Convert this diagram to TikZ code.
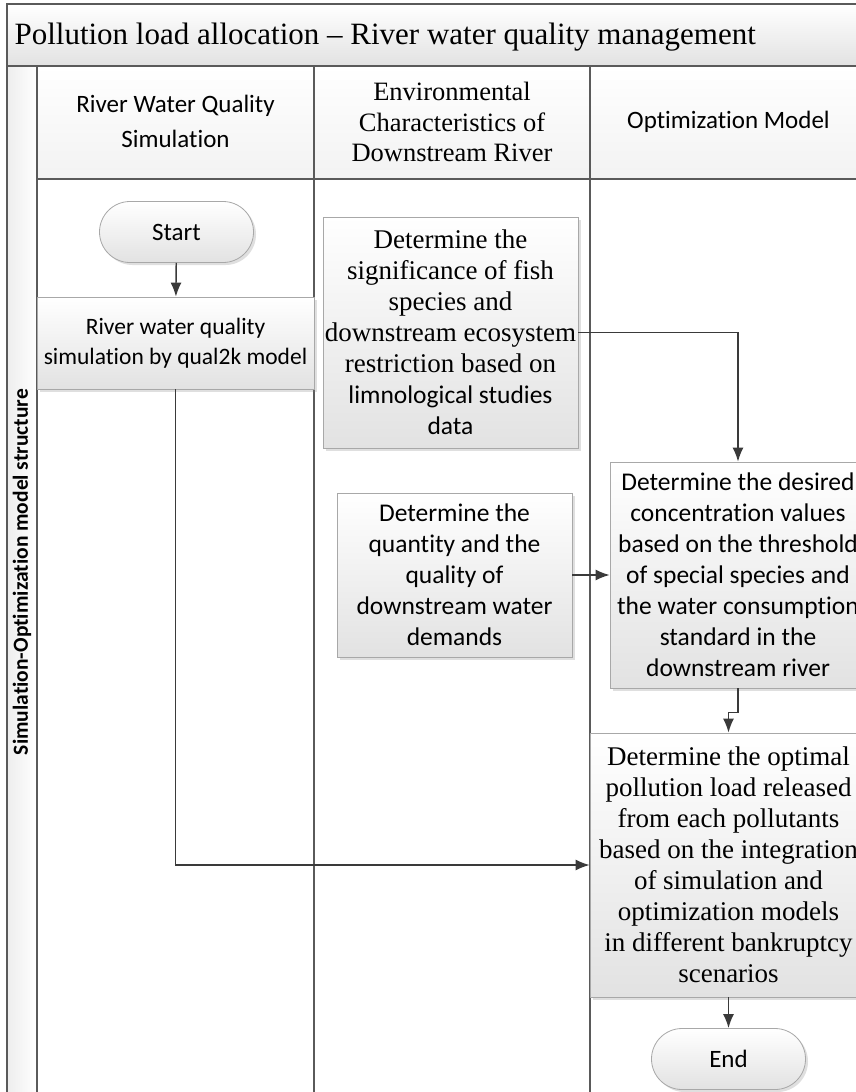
\documentclass[tikz,border=0pt]{standalone}
\usepackage{fontspec}
\setmainfont{Liberation Serif}
\setsansfont{Carlito}[Ligatures={NoCommon}]
\usetikzlibrary{arrows.meta,shadows}

\definecolor{lanegray}{HTML}{5A5A5A}
\definecolor{boxedge}{HTML}{A8A8A8}
\definecolor{boxfill}{HTML}{E2E2E2}
\definecolor{bandfill}{HTML}{E2E2E2}
\definecolor{arrowgray}{HTML}{3A3A3A}

\newcommand{\sfbody}{\sffamily\fontsize{25.5}{31}\selectfont}

\tikzset{
  lane/.style={draw=lanegray, line width=1.5pt},
  procbox/.style={draw=boxedge, line width=0.8pt, top color=white, bottom color=boxfill,
    align=center, inner sep=0pt,
    drop shadow={shadow xshift=2.5pt, shadow yshift=-2.5pt, opacity=0.25}},
  termbox/.style={procbox, rounded corners=30.5pt, minimum width=154pt, minimum height=61pt,
    font=\sffamily\fontsize{25}{30}\selectfont},
  flow/.style={draw=arrowgray, line width=1.4pt, -{Latex[length=14pt,width=11pt]}},
  serifbody/.style={font=\fontsize{27}{31}\selectfont},
  sansbody/.style={font=\sfbody},
}

\begin{document}
\begin{tikzpicture}[x=1pt, y=-1pt]
    \useasboundingbox (0,0) rectangle (856,1092);
    \clip (0,0) rectangle (856,1092);
    \fill[white] (0,0) rectangle (856,1092);

    % pool and lanes
    \path[top color=white, bottom color=bandfill] (7,4) rectangle (867,66);
    \path[top color=white, bottom color=gray!10] (37,66) rectangle (867,179);
    \path[left color=gray!14, right color=white] (7,66) rectangle (37,1100);
    \draw[lane] (7,4) rectangle (867,1100);
    \draw[lane] (7,66) -- (867,66)
    (37,179) -- (867,179)
    (37,66) -- (37,1100)
    (314,66) -- (314,1100)
    (590,66) -- (590,1100)
    ;

    \node[anchor=west, font=\fontsize{31}{34}\selectfont] (title) at (11,37)
        {Pollution load allocation – River water quality management};
    \node[rotate=90, font=\sffamily\bfseries\fontsize{21.5}{24}\selectfont] (pool) at (22,572)
        {Simulation-Optimization model structure};

    \node[align=center, font=\sffamily\fontsize{25}{35}\selectfont] (hsim) at (175.5,121)
        {River Water Quality\\Simulation};
    \node[align=center, font=\fontsize{26.5}{30.5}\selectfont] (henv) at (452,122)
        {Environmental\\Characteristics of\\Downstream River};
    \node[font=\sffamily\fontsize{25}{30}\selectfont] (hopt) at (728.5,122)
        {Optimization Model};

    % flow steps
    \node[termbox] (start) at (176.5,232) {Start};
    \node[procbox, font=\sffamily\fontsize{23.5}{30}\selectfont, minimum width=277pt, minimum height=92pt]
        (sim) at (175.5,343) {River water quality\\simulation by qual2k model};
    \node[procbox, serifbody, minimum width=255pt, minimum height=231pt] (fish) at (450.5,332.5)
        {Determine the\\significance of fish\\species and\\downstream ecosystem\\restriction based on\\
         {\sfbody limnological studies}\\{\sfbody data}};
    \node[procbox, sansbody, minimum width=235pt, minimum height=164pt] (demand) at (454.5,575)
        {Determine the\\quantity and the\\quality of\\downstream water\\demands};
    \node[procbox, sansbody, minimum width=256pt, minimum height=226pt] (desired) at (738,575)
        {Determine the desired\\concentration values\\based on the threshold\\of special species and\\
         the water consumption\\standard in the\\downstream river};
    \node[procbox, serifbody, minimum width=277pt, minimum height=264pt] (final) at (728.5,865)
        {Determine the optimal\\pollution load released\\from each pollutants\\based on the integration\\
         of simulation and\\optimization models\\in different bankruptcy\\scenarios};
    \node[termbox] (end) at (728.5,1059) {End};

    % connectors
    \draw[flow] (start) -- (sim);
    \draw[flow] (sim.south) |- (final.west);
    \draw[flow] (fish.east) -| (desired.north);
    \draw[flow] (demand.east) -- (desired.west);
    \draw[flow] (desired.south) -- ++(0,24) -| (final.north);
    \draw[flow] (final) -- (end);

\end{tikzpicture}
\end{document}
